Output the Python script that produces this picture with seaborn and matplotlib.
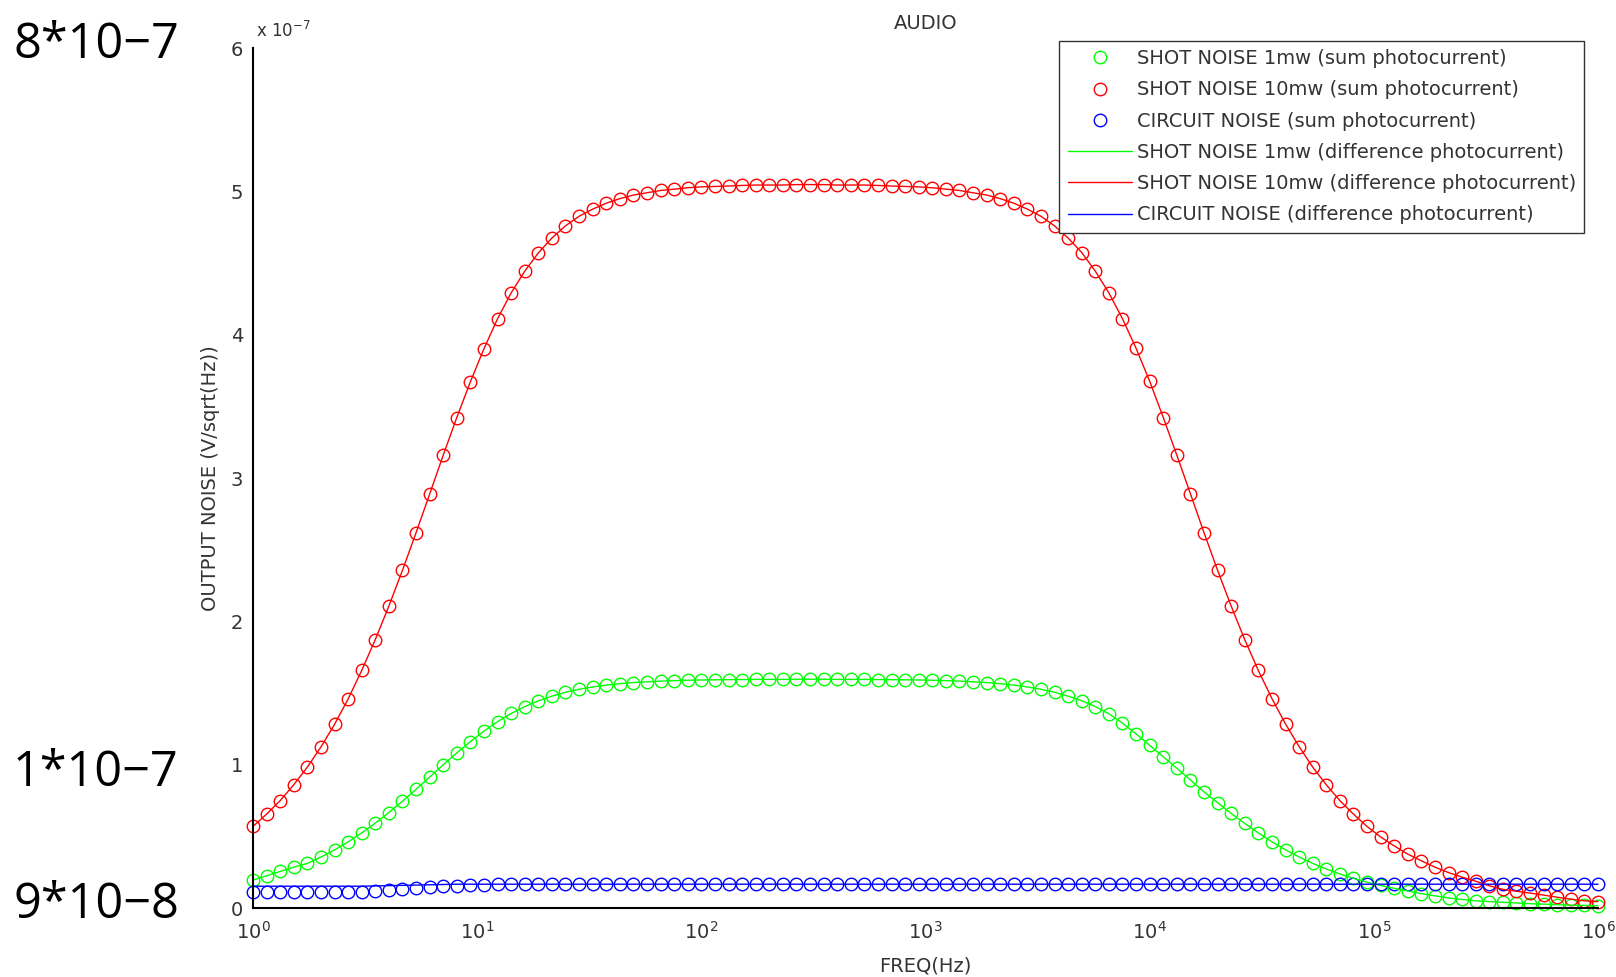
import matplotlib
matplotlib.use('Agg')
import matplotlib.pyplot as plt
import numpy as np
import seaborn as sns
from matplotlib.ticker import LogLocator, NullFormatter, FixedLocator

# frequency points (Hz), 100 log-spaced samples
FREQ_HZ = [
    1, 1.15, 1.322, 1.52, 1.748, 2.009, 2.31, 2.656, 3.054, 3.511,
    4.037, 4.642, 5.337, 6.136, 7.055, 8.111, 9.326, 10.72, 12.33, 14.17,
    16.3, 18.74, 21.54, 24.77, 28.48, 32.75, 37.65, 43.29, 49.77, 57.22,
    65.79, 75.65, 86.97, 100, 115, 132.2, 152, 174.8, 200.9, 231,
    265.6, 305.4, 351.1, 403.7, 464.2, 533.7, 613.6, 705.5, 811.1, 932.6,
    1072, 1233, 1417, 1630, 1874, 2154, 2477, 2848, 3274, 3765,
    4329, 4977, 5722, 6579, 7565, 8697, 10000, 11500, 13220, 15200,
    17480, 20090, 23100, 26560, 30530, 35110, 40370, 46420, 53360, 61350,
    70570, 81100, 93280, 107200, 123300, 141700, 163000, 187400, 215400, 247700,
    284800, 327400, 376500, 432900, 497800, 572100, 657900, 756400, 869600, 1000000,
]

# output noise in units of 1e-7 V/sqrt(Hz)
SHOT_10MW = [
    0.569, 0.655, 0.749, 0.860, 0.983, 1.123, 1.281, 1.458, 1.657, 1.872,
    2.106, 2.356, 2.618, 2.887, 3.159, 3.422, 3.671, 3.902, 4.111, 4.291,
    4.443, 4.570, 4.674, 4.759, 4.826, 4.876, 4.917, 4.949, 4.974, 4.990,
    5.006, 5.015, 5.025, 5.031, 5.034, 5.037, 5.041, 5.044, 5.044, 5.044,
    5.047, 5.047, 5.047, 5.044, 5.044, 5.044, 5.041, 5.037, 5.034, 5.031,
    5.025, 5.015, 5.006, 4.990, 4.974, 4.949, 4.917, 4.876, 4.826, 4.759,
    4.674, 4.573, 4.443, 4.291, 4.111, 3.905, 3.675, 3.422, 3.159, 2.890,
    2.618, 2.356, 2.106, 1.872, 1.657, 1.461, 1.284, 1.126, 0.983, 0.860,
    0.749, 0.655, 0.569, 0.496, 0.433, 0.376, 0.329, 0.285, 0.247, 0.215,
    0.187, 0.155, 0.130, 0.117, 0.104, 0.090, 0.075, 0.062, 0.050, 0.045,
]

SHOT_1MW = [
    0.195, 0.225, 0.255, 0.285, 0.311, 0.355, 0.405, 0.461, 0.524, 0.592,
    0.666, 0.745, 0.828, 0.913, 0.999, 1.082, 1.161, 1.234, 1.300, 1.357,
    1.405, 1.445, 1.478, 1.505, 1.526, 1.542, 1.555, 1.565, 1.573, 1.578,
    1.583, 1.586, 1.589, 1.591, 1.592, 1.593, 1.594, 1.595, 1.595, 1.595,
    1.596, 1.596, 1.596, 1.595, 1.595, 1.595, 1.594, 1.593, 1.592, 1.591,
    1.589, 1.586, 1.583, 1.578, 1.573, 1.565, 1.555, 1.542, 1.526, 1.505,
    1.478, 1.446, 1.405, 1.355, 1.290, 1.215, 1.135, 1.055, 0.975, 0.893,
    0.810, 0.735, 0.660, 0.590, 0.524, 0.462, 0.406, 0.356, 0.311, 0.272,
    0.237, 0.207, 0.180, 0.157, 0.137, 0.119, 0.100, 0.085, 0.070, 0.060,
    0.050, 0.045, 0.040, 0.035, 0.030, 0.027, 0.023, 0.020, 0.018, 0.016,
]

CIRCUIT_SUM = [
    0.114, 0.114, 0.114, 0.114, 0.114, 0.114, 0.114, 0.114, 0.114, 0.118,
    0.124, 0.131, 0.138, 0.145, 0.151, 0.156, 0.160, 0.163, 0.165, 0.166,
    0.166, 0.166, 0.166, 0.166, 0.166, 0.166, 0.166, 0.166, 0.166, 0.166,
    0.166, 0.166, 0.166, 0.166, 0.166, 0.166, 0.166, 0.166, 0.166, 0.166,
    0.166, 0.166, 0.166, 0.166, 0.166, 0.166, 0.166, 0.166, 0.166, 0.166,
    0.166, 0.166, 0.166, 0.166, 0.166, 0.166, 0.166, 0.166, 0.166, 0.166,
    0.166, 0.166, 0.166, 0.166, 0.166, 0.166, 0.166, 0.166, 0.166, 0.166,
    0.166, 0.166, 0.166, 0.166, 0.166, 0.166, 0.166, 0.166, 0.166, 0.166,
    0.166, 0.166, 0.166, 0.166, 0.166, 0.166, 0.166, 0.166, 0.166, 0.166,
    0.166, 0.166, 0.166, 0.166, 0.166, 0.166, 0.166, 0.166, 0.166, 0.166,
]

CIRCUIT_DIFF = [
    0.152, 0.152, 0.152, 0.152, 0.152, 0.152, 0.152, 0.152, 0.152, 0.154,
    0.156, 0.158, 0.160, 0.162, 0.164, 0.166, 0.166, 0.166, 0.166, 0.166,
    0.166, 0.166, 0.166, 0.166, 0.166, 0.166, 0.166, 0.166, 0.166, 0.166,
    0.166, 0.166, 0.166, 0.166, 0.166, 0.166, 0.166, 0.166, 0.166, 0.166,
    0.166, 0.166, 0.166, 0.166, 0.166, 0.166, 0.166, 0.166, 0.166, 0.166,
    0.166, 0.166, 0.166, 0.166, 0.166, 0.166, 0.166, 0.166, 0.166, 0.166,
    0.166, 0.166, 0.166, 0.166, 0.166, 0.166, 0.166, 0.166, 0.166, 0.166,
    0.166, 0.166, 0.166, 0.166, 0.166, 0.166, 0.166, 0.166, 0.166, 0.166,
    0.166, 0.166, 0.166, 0.166, 0.166, 0.166, 0.166, 0.166, 0.166, 0.166,
    0.166, 0.166, 0.166, 0.166, 0.166, 0.166, 0.166, 0.166, 0.166, 0.166,
]

Y_TICKS = [0, 1, 2, 3, 4, 5, 6]

SUM_LABELS = ['SHOT NOISE 1mw (sum photocurrent)',
              'SHOT NOISE 10mw (sum photocurrent)',
              'CIRCUIT NOISE (sum photocurrent)']
DIFF_LABELS = ['SHOT NOISE 1mw (difference photocurrent)',
               'SHOT NOISE 10mw (difference photocurrent)',
               'CIRCUIT NOISE (difference photocurrent)']
NOTES = ['8*10\u22127', '1*10\u22127', '9*10\u22128']

GREEN, RED, BLUE = '#00ff00', '#ff0000', '#0000ff'
TXT = '#333333'

sns.set_theme(style='white')
plt.rcParams['font.family'] = ['DejaVu Sans']

fig = plt.figure(figsize=(16.16, 9.77), dpi=100)
ax = fig.add_axes([253 / 1616, 1 - 908 / 977, (1598 - 253) / 1616, (908 - 48) / 977])

# sum photocurrent: open circles only
for vals, c, lab in zip([SHOT_1MW, SHOT_10MW, CIRCUIT_SUM], [GREEN, RED, BLUE], SUM_LABELS):
    sns.lineplot(x=FREQ_HZ, y=vals, ax=ax, color=c, marker='o', linestyle='none',
                 markersize=9, markerfacecolor='none', markeredgecolor=c,
                 markeredgewidth=1.0, label=lab, clip_on=False, errorbar=None, sort=False)

# difference photocurrent: plain lines
for vals, c, lab in zip([SHOT_1MW, SHOT_10MW, CIRCUIT_DIFF], [GREEN, RED, BLUE], DIFF_LABELS):
    sns.lineplot(x=FREQ_HZ, y=vals, ax=ax, color=c, linewidth=1.0, label=lab,
                 clip_on=False, errorbar=None, sort=False)

ax.set_xscale('log')
ax.set_xlim(1, 1e6)
ax.set_ylim(0, 6)
ax.xaxis.set_major_locator(LogLocator(base=10, numticks=10))
ax.xaxis.set_minor_locator(LogLocator(base=10, subs=np.arange(2, 10), numticks=100))
ax.xaxis.set_minor_formatter(NullFormatter())
ax.yaxis.set_major_locator(FixedLocator(Y_TICKS))
ax.set_yticklabels([str(t) for t in Y_TICKS])

for side in ['top', 'right']:
    ax.spines[side].set_visible(False)
for side in ['left', 'bottom']:
    ax.spines[side].set_color('black')
    ax.spines[side].set_linewidth(1.5)

ax.tick_params(axis='both', which='major', direction='in', length=9.5, width=0.9,
               color='black', labelcolor=TXT, labelsize=14)
ax.tick_params(axis='x', which='major', pad=9)
ax.tick_params(axis='y', which='major', pad=7)
ax.tick_params(axis='x', which='minor', direction='in', length=5.8, width=0.9, color='black')

ax.set_xlabel('FREQ(Hz)', fontsize=14, color=TXT, labelpad=10.5)
ax.set_ylabel('OUTPUT NOISE (V/sqrt(Hz))', fontsize=14, color=TXT, labelpad=8)
ax.set_title('AUDIO', fontsize=14, color=TXT, pad=13.8)
ax.text(0.002, 1.008, r'x 10$^{-7}$', transform=ax.transAxes, fontsize=12,
        color=TXT, ha='left', va='bottom')

leg = ax.legend(loc='upper right', bbox_to_anchor=(1584 / 1616, 1 - 41 / 977),
                bbox_transform=fig.transFigure, fontsize=14, frameon=True, fancybox=False,
                edgecolor=TXT, framealpha=1, handlelength=3.3, handletextpad=0.25,
                labelspacing=0.63, borderpad=0.42, borderaxespad=0)
leg.get_frame().set_linewidth(1.0)
for t in leg.get_texts():
    t.set_color(TXT)

# big hand-written notes at the left edge
for note, base_y in zip(NOTES, [58, 786, 918]):
    fig.text(13 / 1616, 1 - base_y / 977, note, fontsize=35, family='Open Sans',
             color='black', ha='left', va='baseline')

plt.savefig('out.png', dpi=100)
